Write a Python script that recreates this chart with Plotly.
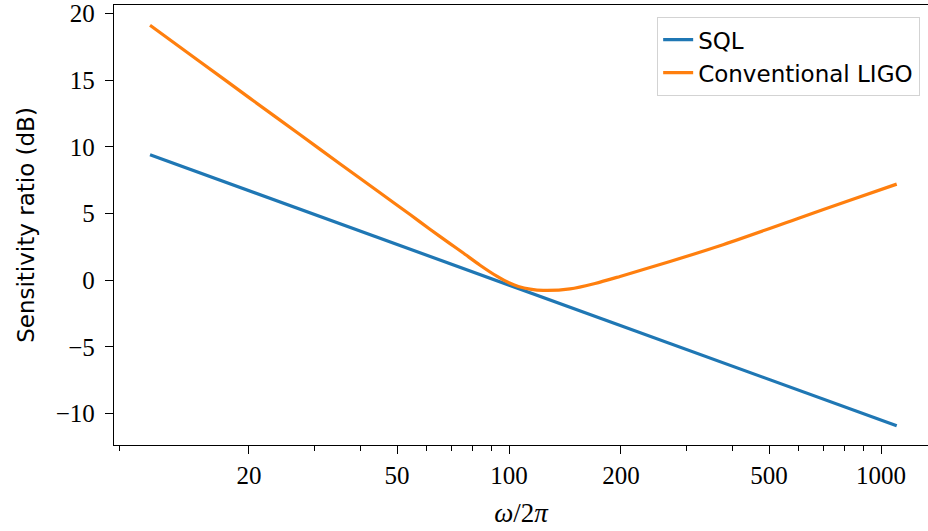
import plotly.graph_objects as go

# Data
sql_freq = [10.84, 100.0, 1102.0]
sql_db = [9.40, -0.36, -10.92]

ligo_freq = [10.84, 14.77, 20.1, 27.4, 35.1, 45.0, 54.2, 61.3, 69.4, 75.2, 83.6,
             92.7, 100.0, 106.0, 113.9, 123.6, 145.9, 170.3, 198.8, 270.9,
             369.0, 606.0, 825.5, 1102.0]
ligo_db = [19.11, 16.38, 13.65, 10.92, 8.73, 6.55, 4.92, 3.82, 2.74, 2.05, 1.12,
           0.30, -0.20, -0.47, -0.67, -0.77, -0.66, -0.25, 0.28, 1.40,
           2.58, 4.68, 5.99, 7.20]

x_major = [20, 50, 100, 200, 500, 1000]
x_major_text = ["20", "50", "100", "200", "500", "1000"]
x_minor = [9, 30, 40, 60, 70, 80, 90, 300, 400, 600, 700, 800, 900]
y_ticks = [-10, -5, 0, 5, 10, 15, 20]
y_text = ["\u221210", "\u22125", "0", "5", "10", "15", "20"]

serif = "Liberation Serif, DejaVu Serif, serif"
sans = "DejaVu Sans, Noto Sans, sans-serif"

fig = go.Figure()
fig.add_trace(go.Scatter(x=sql_freq, y=sql_db, mode="lines", name="SQL",
                         line=dict(color="#1f77b4", width=3.2)))
fig.add_trace(go.Scatter(x=ligo_freq, y=ligo_db, mode="lines", name="Conventional LIGO",
                         line=dict(color="#ff7f0e", width=3.2, shape="spline", smoothing=0.8)))

fig.update_layout(
    width=928, height=531,
    margin=dict(l=114, r=0, t=2, b=86),
    paper_bgcolor="white", plot_bgcolor="white",
    showlegend=True,
    legend=dict(x=0.990, y=0.973, xanchor="right", yanchor="top",
                bgcolor="white", bordercolor="#d3d3d3", borderwidth=1.3,
                font=dict(family=sans, size=23, color="black")),
    xaxis=dict(type="log", range=[0.9382, 3.1263],
               tickmode="array", tickvals=x_major, ticktext=x_major_text,
               ticks="outside", ticklen=8, tickwidth=1.3, tickcolor="black",
               showline=True, linecolor="black", linewidth=1.3, mirror=True,
               showgrid=False, zeroline=False,
               tickfont=dict(family=serif, size=25, color="black"),
               minor=dict(tickmode="array", tickvals=x_minor, ticks="outside",
                          ticklen=4.5, tickwidth=1.1, tickcolor="black", showgrid=False),
               title=dict(text="<i>\u03c9</i>/2<i>\u03c0</i>",
                          font=dict(family=serif, size=27, color="black"),
                          standoff=14)),
    yaxis=dict(range=[-12.36, 20.63],
               tickmode="array", tickvals=y_ticks, ticktext=y_text,
               ticks="outside", ticklen=8, tickwidth=1.3, tickcolor="black",
               showline=True, linecolor="black", linewidth=1.3, mirror=False,
               showgrid=False, zeroline=False, ticklabeloverflow="allow",
               ticklabelstandoff=5,
               tickfont=dict(family=serif, size=25, color="black"),
               title=dict(text="Sensitivity ratio (dB)",
                          font=dict(family=sans, size=23, color="black"),
                          standoff=14)),
)

fig.write_html("out.html")
